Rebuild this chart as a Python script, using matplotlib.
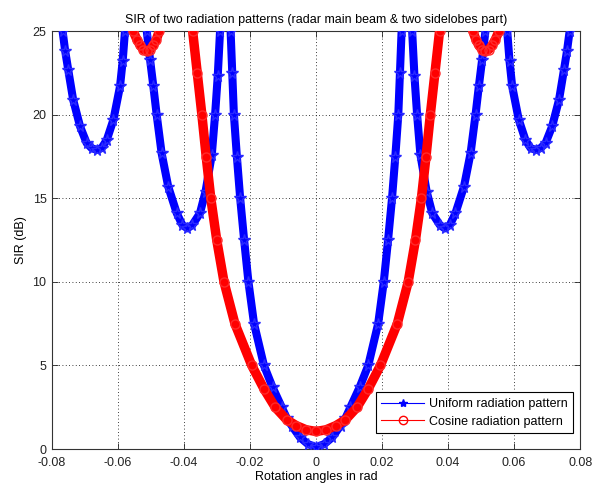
import numpy as np
import matplotlib
matplotlib.use("Agg")
import matplotlib.pyplot as plt
from matplotlib.lines import Line2D

plt.rcParams['font.family'] = ['Liberation Sans', 'DejaVu Sans']

title = "SIR of two radiation patterns (radar main beam & two sidelobes part)"
xlabel = "Rotation angles in rad"
ylabel = "SIR (dB)"
legend_labels = ["Uniform radiation pattern", "Cosine radiation pattern"]
xticks = [-0.08, -0.06, -0.04, -0.02, 0, 0.02, 0.04, 0.06, 0.08]
xtick_labels = ["-0.08", "-0.06", "-0.04", "-0.02", "0", "0.02", "0.04", "0.06", "0.08"]
yticks = [0, 5, 10, 15, 20, 25]

# Uniform radiation pattern (visible branches, clipped at 25 dB)
uni_outer_left_x = [-0.0768, -0.0760, -0.0751, -0.0736, -0.0715, -0.0695, -0.0680, -0.0665,
                    -0.0650, -0.0634, -0.0614, -0.0594, -0.0586, -0.0579]
uni_outer_left_y = [25.0, 23.8, 22.7, 20.9, 19.3, 18.3, 18.0, 17.9, 18.0, 18.5, 19.7, 21.7, 23.2, 25.0]

uni_side_left_x = [-0.0513, -0.0503, -0.0493, -0.0483, -0.0468, -0.0448, -0.0422, -0.0405,
                   -0.0390, -0.0375, -0.0352, -0.0335, -0.0316, -0.0306, -0.0298, -0.0291]
uni_side_left_y = [25.0, 23.3, 21.7, 20.0, 17.7, 15.7, 14.1, 13.4, 13.2, 13.4, 14.1, 15.4,
                   17.6, 20.0, 22.3, 25.0]

uni_main_x = [-0.0259, -0.0254, -0.0249, -0.0240, -0.0230, -0.0218, -0.0205, -0.0188, -0.0158,
              -0.0132, -0.0104, -0.0089, -0.0074, -0.0049, -0.0025, 0.0,
              0.0025, 0.0049, 0.0074, 0.0089, 0.0104, 0.0132, 0.0158, 0.0188, 0.0205,
              0.0218, 0.0230, 0.0240, 0.0249, 0.0254, 0.0259]
uni_main_y = [25.0, 22.5, 20.0, 17.5, 15.0, 12.5, 10.0, 7.5, 5.0, 3.7, 2.5, 1.85, 1.4, 0.7, 0.3, 0.1,
              0.3, 0.7, 1.4, 1.85, 2.5, 3.7, 5.0, 7.5, 10.0, 12.5, 15.0, 17.5, 20.0, 22.5, 25.0]

uni_side_right_x = [0.0291, 0.0298, 0.0306, 0.0316, 0.0335, 0.0352, 0.0375, 0.0390, 0.0405,
                    0.0422, 0.0448, 0.0468, 0.0483, 0.0493, 0.0503, 0.0513]
uni_side_right_y = [25.0, 22.3, 20.0, 17.6, 15.4, 14.1, 13.4, 13.2, 13.4, 14.1, 15.7, 17.7,
                    20.0, 21.7, 23.3, 25.0]

uni_outer_right_x = [0.0579, 0.0586, 0.0594, 0.0614, 0.0634, 0.0650, 0.0665, 0.0680, 0.0695,
                     0.0715, 0.0736, 0.0751, 0.0760, 0.0768]
uni_outer_right_y = [25.0, 23.2, 21.7, 19.7, 18.5, 18.0, 17.9, 18.0, 18.3, 19.3, 20.9, 22.7, 23.8, 25.0]

# Cosine radiation pattern
cos_cusp_left_x = [-0.0554, -0.0543, -0.0533, -0.0523, -0.0513, -0.0503, -0.0493, -0.0484, -0.0475]
cos_cusp_left_y = [25.0, 24.5, 24.15, 23.9, 23.8, 23.9, 24.15, 24.5, 25.0]

cos_main_x = [-0.0374, -0.0360, -0.0346, -0.0333, -0.0319, -0.0301, -0.0279, -0.0246, -0.0195,
              -0.0158, -0.0124, -0.0089, -0.0060, -0.0030, 0.0,
              0.0030, 0.0060, 0.0089, 0.0124, 0.0158, 0.0195, 0.0246, 0.0279, 0.0301,
              0.0319, 0.0333, 0.0346, 0.0360, 0.0374]
cos_main_y = [25.0, 22.5, 20.0, 17.5, 15.0, 12.5, 10.0, 7.5, 5.0, 3.6, 2.5, 1.75, 1.4, 1.15, 1.05,
              1.15, 1.4, 1.75, 2.5, 3.6, 5.0, 7.5, 10.0, 12.5, 15.0, 17.5, 20.0, 22.5, 25.0]

cos_cusp_right_x = [0.0475, 0.0484, 0.0493, 0.0503, 0.0513, 0.0523, 0.0533, 0.0543, 0.0554]
cos_cusp_right_y = [25.0, 24.5, 24.15, 23.9, 23.8, 23.9, 24.15, 24.5, 25.0]

uni_branches = [(uni_outer_left_x, uni_outer_left_y), (uni_side_left_x, uni_side_left_y),
                (uni_main_x, uni_main_y), (uni_side_right_x, uni_side_right_y),
                (uni_outer_right_x, uni_outer_right_y)]
cos_branches = [(cos_cusp_left_x, cos_cusp_left_y), (cos_main_x, cos_main_y),
                (cos_cusp_right_x, cos_cusp_right_y)]

fig = plt.figure(figsize=(6.12, 4.87), dpi=100)
ax = fig.add_axes([0.085, 0.078, 0.863, 0.858])

for bx, by in uni_branches:
    ax.plot(bx, by, color='#0000ff', lw=5.8, solid_capstyle='round', zorder=2)
    ax.plot(bx, by, color='#0000ff', lw=0, marker='*', ms=8.5, mec='#2a2aff', zorder=3)
for bx, by in cos_branches:
    ax.plot(bx, by, color='#ff0000', lw=6.8, solid_capstyle='round', zorder=4)
    ax.plot(bx, by, color='#ff0000', lw=0, marker='o', ms=6.5, mfc='none', mec='#ff2a2a',
            mew=1.0, zorder=5)

ax.set_xlim(-0.08, 0.08)
ax.set_ylim(0, 25)
ax.set_xticks(xticks)
ax.set_xticklabels(xtick_labels)
ax.set_yticks(yticks)
ax.grid(True, linestyle=(0, (1, 3)), color='black', lw=0.6)
ax.tick_params(direction='in', length=4, width=0.6, top=True, right=True, labelsize=9,
               colors='#222222', pad=4)
ax.tick_params(axis='x', pad=6)
for s in ax.spines.values():
    s.set_linewidth(0.8)
    s.set_color('#333333')

ax.set_title(title, fontsize=9, pad=6)
ax.set_xlabel(xlabel, fontsize=9, labelpad=1)
ax.set_ylabel(ylabel, fontsize=9, labelpad=4)

handles = [Line2D([], [], color='#0000ff', lw=0.8, marker='*', ms=6),
           Line2D([], [], color='#ff0000', lw=0.8, marker='o', ms=6, mfc='none')]
leg = ax.legend(handles, legend_labels, loc='lower right', bbox_to_anchor=(0.987, 0.038),
                borderaxespad=0, fontsize=9, handlelength=3.4, numpoints=1,
                fancybox=False, framealpha=1, edgecolor='black', borderpad=0.45,
                labelspacing=0.45, handletextpad=0.4)
leg.get_frame().set_linewidth(0.8)
leg.set_zorder(10)

fig.savefig("out.png", dpi=100)
